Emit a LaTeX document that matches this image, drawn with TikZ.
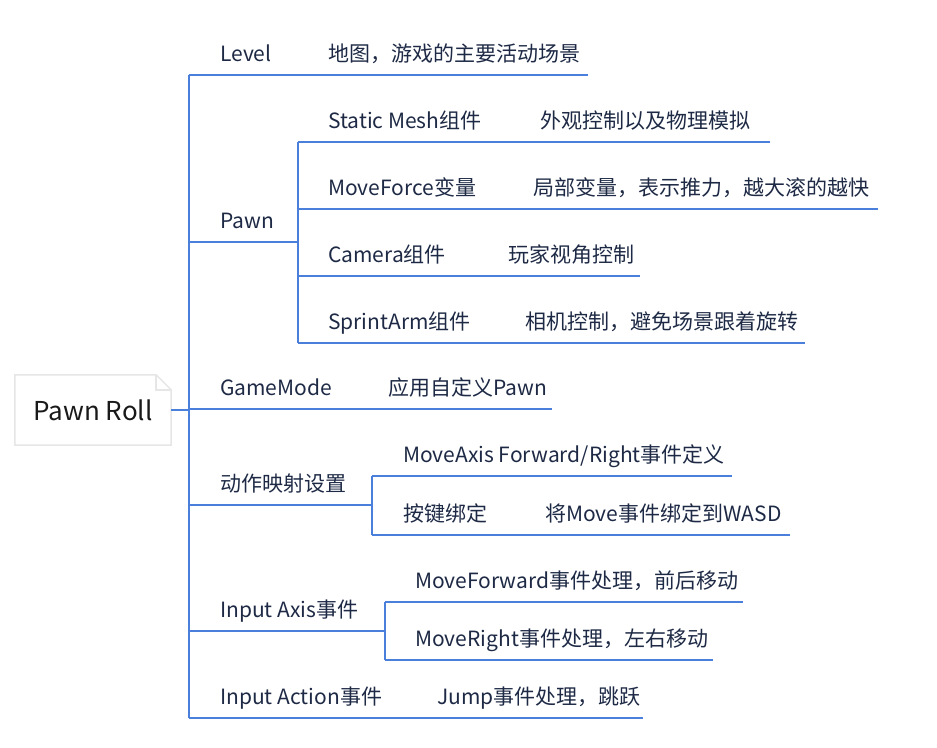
\documentclass[tikz,border=0pt]{standalone}
\usepackage{fontspec}
\setmainfont{Noto Sans CJK SC}
\usepackage{tikz}
\definecolor{linie}{HTML}{4A80DC}
\definecolor{schrift}{HTML}{1E2A45}
\definecolor{rand}{HTML}{E6E6E6}

\begin{document}
\begin{tikzpicture}[x=1pt, y=-1pt,
			branch/.style={draw=linie, line width=2pt},
			topic/.style={anchor=base west, inner sep=0pt, text=schrift, font=\fontsize{21}{25}\selectfont},
			wurzel/.style={minimum width=156pt, minimum height=70pt, inner sep=0pt, text=black!90, font=\fontsize{26}{30}\selectfont}]
			\useasboundingbox (0,0) rectangle (937,747);
			% Wurzel mit Eselsohr
			\node[wurzel] (root) at (93,410) {};
			\draw[rand, line width=1.5pt, fill=white] (root.north west) -- ([xshift=-15pt]root.north east) -- ([yshift=-15pt]root.north east) -- (root.south east) -- (root.south west) -- cycle;
			\draw[rand, line width=1.5pt] ([xshift=-15pt]root.north east) |- ([yshift=-15pt]root.north east);
			\node[wurzel] at (root) {Pawn Roll};
			% Unterstriche der Themen
			\foreach \nm/\a/\b/\y in {level/189/588/75, pawn/189/298/242, mesh/298/770/142, force/298/878/209,
				camera/298/640/276, arm/298/805/343, mode/189/552/409, mapping/189/372/505,
				axisdef/372/732/476, keys/372/790/535, inaxis/189/385/631, fwd/385/743/602,
				right/385/713/660, inaction/189/643/718} {
				\coordinate (\nm0) at (\a,\y);
				\coordinate (\nm1) at (\b,\y);
				\draw[branch] (\nm0) -- (\nm1);
			}
			% Senkrechte Aeste
			\draw[branch] (level0) -- (inaction0);
			\draw[branch] (mesh0) -- (arm0);
			\draw[branch] (axisdef0) -- (keys0);
			\draw[branch] (fwd0) -- (right0);
			\draw[branch] (root.east) -- (root.east -| level0);
			% Beschriftung
			\foreach \nm/\x/\y/\t in {level/220/61/Level, levelD/328/61/地图，游戏的主要活动场景,
				pawn/220/228/Pawn, mesh/328/128/Static Mesh组件, meshD/540/128/外观控制以及物理模拟,
				force/328/195/MoveForce变量, forceD/533/195/局部变量，表示推力，越大滚的越快,
				camera/328/262/Camera组件, cameraD/508/262/玩家视角控制,
				arm/328/329/SprintArm组件, armD/525/329/相机控制，避免场景跟着旋转,
				mode/220/395/GameMode, modeD/388/395/应用自定义Pawn,
				mapping/220/491/动作映射设置, axisdef/403/462/{MoveAxis Forward/Right事件定义},
				keys/403/521/按键绑定, keysD/545/521/将Move事件绑定到WASD,
				inaxis/220/617/Input Axis事件, fwd/415/588/MoveForward事件处理，前后移动,
				right/415/646/MoveRight事件处理，左右移动,
				inaction/220/704/Input Action事件, jump/437/704/Jump事件处理，跳跃}
				\node[topic] (\nm) at (\x,\y) {\t};
		\end{tikzpicture}
\end{document}
